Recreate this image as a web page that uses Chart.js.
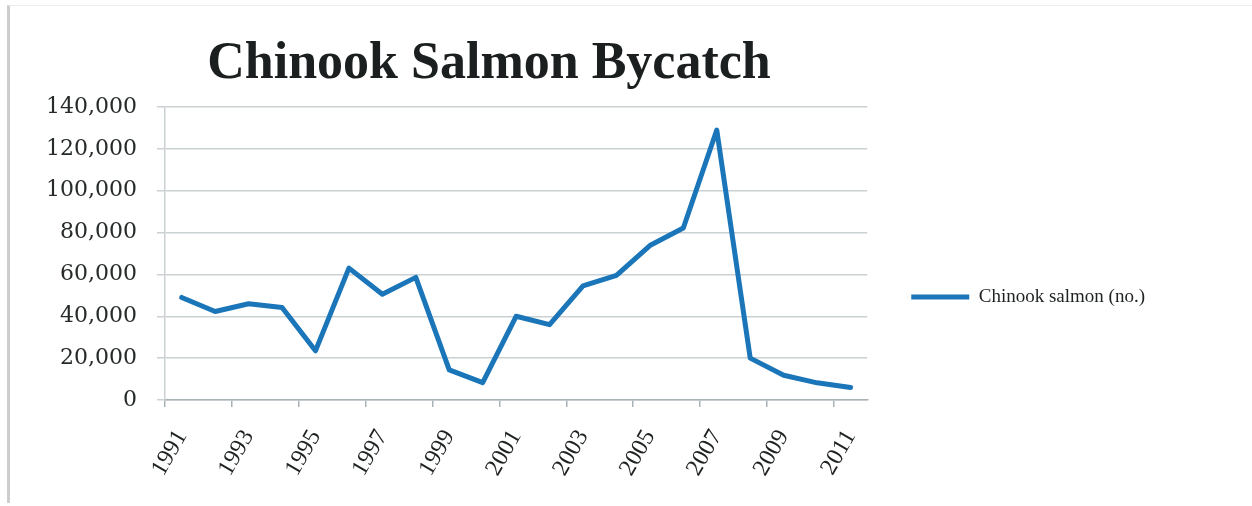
<!DOCTYPE html>
<html>
<head>
<meta charset="utf-8">
<title>Chinook Salmon Bycatch</title>
<script src="https://cdn.jsdelivr.net/npm/chart.js@4.4.1/dist/chart.umd.min.js"></script>
<style>
  html, body { margin: 0; padding: 0; background: #fff; }
  #wrap { position: relative; width: 1252px; height: 506px; }
  #frame {
    position: absolute; left: 7px; top: 5px; right: 0; bottom: 3px;
    border-left: 3px solid #cdcdcd; border-top: 1px solid #ececec;
    pointer-events: none;
  }
</style>
</head>
<body>
<div id="wrap">
  <canvas id="chart" width="1252" height="506"></canvas>
  <div id="frame"></div>
</div>
<script>
/* ---- Data ---- */
const years = ['1991', '1992', '1993', '1994', '1995', '1996', '1997', '1998', '1999', '2000',
               '2001', '2002', '2003', '2004', '2005', '2006', '2007', '2008', '2009', '2010', '2011'];
const chinookSalmon = [49000, 42300, 46000, 44200, 23500, 63000, 50500, 58600, 14400, 8300,
                       40000, 36000, 54500, 59500, 73800, 82200, 129000, 20000, 11800, 8200, 6000];
const shownYears = ['1991', '1993', '1995', '1997', '1999', '2001', '2003', '2005', '2007', '2009', '2011'];
const yTickValues = [0, 20000, 40000, 60000, 80000, 100000, 120000, 140000];

const TITLE = 'Chinook Salmon Bycatch';
const SERIES = 'Chinook salmon (no.)';

/* ---- Title drawn off-centre, as in the source slide ---- */
const titlePlugin = {
  id: 'slideTitle',
  afterDraw(chart) {
    const ctx = chart.ctx;
    ctx.save();
    ctx.font = 'bold 52px "Liberation Serif", "Times New Roman", serif';
    ctx.fillStyle = '#1b1f1f';
    ctx.textAlign = 'center';
    ctx.textBaseline = 'alphabetic';
    ctx.fillText(TITLE, 489, 78);
    ctx.restore();
  }
};

const gridGrey = '#c9d1d3';

new Chart(document.getElementById('chart'), {
  type: 'line',
  data: {
    labels: years,
    datasets: [{
      label: SERIES,
      data: chinookSalmon,
      borderColor: '#1a75b9',
      backgroundColor: '#1a75b9',
      borderWidth: 5,
      tension: 0,
      pointRadius: 0,
      pointHoverRadius: 0,
      borderJoinStyle: 'round',
      borderCapStyle: 'round'
    }]
  },
  options: {
    responsive: false,
    animation: false,
    // legend width is capped by the layout, so keep side padding small
    layout: { padding: { top: 107, left: 0, right: 97, bottom: 19 } },
    scales: {
      x: {
        offset: true,
        grid: {
          offset: true,
          drawOnChartArea: false,
          tickLength: 7,
          color: ctx => (ctx.index % 2 === 0 ? '#a9b2b5' : 'rgba(0,0,0,0)'),
          lineWidth: 1.5
        },
        border: { color: '#a9b2b5', width: 1.5 },
        ticks: {
          autoSkip: false,
          maxRotation: 60,
          minRotation: 60,
          padding: 18,
          color: '#1e2222',
          font: { family: '"Liberation Serif", "Times New Roman", serif', size: 24 },
          callback: function (value) {
            const lbl = this.getLabelForValue(value);
            return shownYears.includes(lbl) ? lbl : '';
          }
        },
        afterFit: scale => { scale.height = 87; }
      },
      y: {
        min: 0,
        max: 140000,
        afterBuildTicks: scale => { scale.ticks = yTickValues.map(v => ({ value: v })); },
        grid: { color: gridGrey, lineWidth: 1.5, tickLength: 8 },
        border: { color: gridGrey, width: 1.5 },
        ticks: {
          padding: 20,
          color: '#262a2a',
          font: { family: '"DejaVu Serif", serif', size: 22 },
          callback: v => v.toLocaleString('en-US')
        },
        afterFit: scale => { scale.width = 165; }
      }
    },
    plugins: {
      title: { display: false },
      tooltip: { enabled: false },
      legend: {
        position: 'right',
        labels: {
          usePointStyle: true,
          pointStyle: 'line',
          pointStyleWidth: 58,
          padding: 44,
          color: '#1e2222',
          font: { family: '"Liberation Serif", "Times New Roman", serif', size: 19 }
        }
      }
    }
  },
  plugins: [titlePlugin]
});
</script>
</body>
</html>
